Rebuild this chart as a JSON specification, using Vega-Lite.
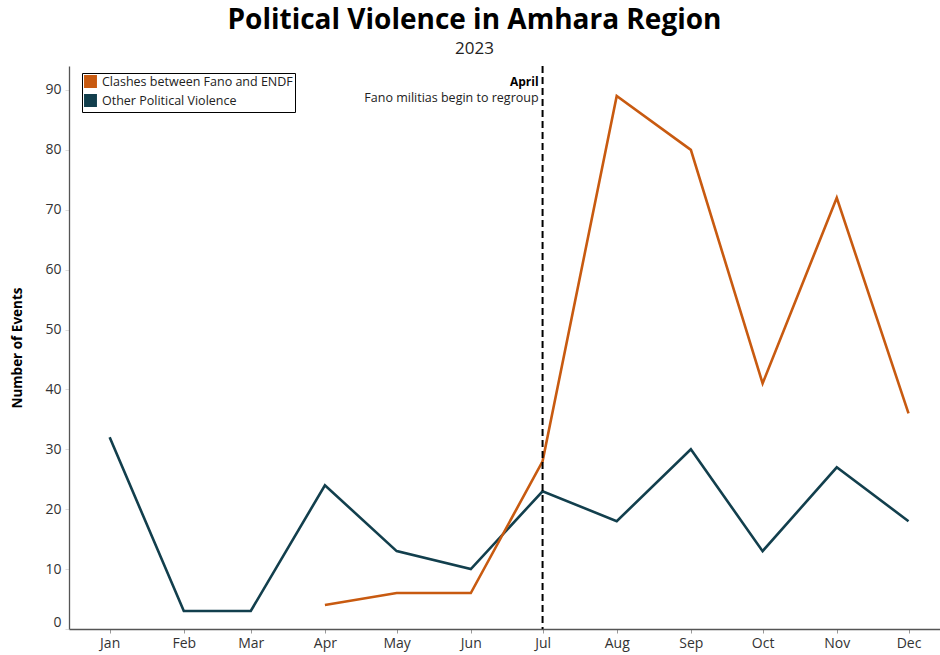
{
  "$schema": "https://vega.github.io/schema/vega-lite/v6.json",
  "width": 873,
  "height": 563,
  "padding": {"left": 10, "top": 7, "right": 0, "bottom": 5},
  "background": "white",
  "title": {
    "text": "Political Violence in Amhara Region",
    "subtitle": "2023",
    "font": "Open Sans",
    "fontSize": 28,
    "fontWeight": "bold",
    "color": "#000000",
    "subtitleFont": "Open Sans",
    "subtitleFontSize": 17,
    "subtitleColor": "#222222",
    "subtitlePadding": 6,
    "anchor": "middle",
    "frame": "bounds",
    "dx": -2,
    "offset": 8
  },
  "config": {
    "view": {"stroke": null},
    "font": "Open Sans",
    "axis": {"labelFont": "Open Sans", "titleFont": "Open Sans", "grid": false}
  },
  "datasets": {
    "series": [
      {"date": "2023-01-01", "series": "Other Political Violence", "events": 32},
      {"date": "2023-02-01", "series": "Other Political Violence", "events": 3},
      {"date": "2023-03-01", "series": "Other Political Violence", "events": 3},
      {"date": "2023-04-01", "series": "Other Political Violence", "events": 24},
      {"date": "2023-05-01", "series": "Other Political Violence", "events": 13},
      {"date": "2023-06-01", "series": "Other Political Violence", "events": 10},
      {"date": "2023-07-01", "series": "Other Political Violence", "events": 23},
      {"date": "2023-08-01", "series": "Other Political Violence", "events": 18},
      {"date": "2023-09-01", "series": "Other Political Violence", "events": 30},
      {"date": "2023-10-01", "series": "Other Political Violence", "events": 13},
      {"date": "2023-11-01", "series": "Other Political Violence", "events": 27},
      {"date": "2023-12-01", "series": "Other Political Violence", "events": 18},
      {"date": "2023-04-01", "series": "Clashes between Fano and ENDF", "events": 4},
      {"date": "2023-05-01", "series": "Clashes between Fano and ENDF", "events": 6},
      {"date": "2023-06-01", "series": "Clashes between Fano and ENDF", "events": 6},
      {"date": "2023-07-01", "series": "Clashes between Fano and ENDF", "events": 28},
      {"date": "2023-08-01", "series": "Clashes between Fano and ENDF", "events": 89},
      {"date": "2023-09-01", "series": "Clashes between Fano and ENDF", "events": 80},
      {"date": "2023-10-01", "series": "Clashes between Fano and ENDF", "events": 41},
      {"date": "2023-11-01", "series": "Clashes between Fano and ENDF", "events": 72},
      {"date": "2023-12-01", "series": "Clashes between Fano and ENDF", "events": 36}
    ],
    "marker": [{"date": "2023-07-01"}],
    "noteHead": [{"date": "2023-07-01", "events": 91.4, "label": "April"}],
    "noteBody": [{"date": "2023-07-01", "events": 88.7, "label": "Fano militias begin to regroup"}]
  },
  "layer": [
    {
      "data": {"name": "series"},
      "mark": {"type": "line", "strokeWidth": 2.6, "strokeJoin": "miter"},
      "encoding": {
        "x": {
          "field": "date",
          "type": "temporal",
          "scale": {
            "type": "utc",
            "domain": [
              {"year": 2022, "month": 12, "date": 15, "utc": true},
              {"year": 2023, "month": 12, "date": 15, "utc": true}
            ],
            "nice": false
          },
          "axis": {
            "title": null,
            "format": "%b",
            "tickCount": {"interval": "month", "step": 1},
            "labelAngle": 0,
            "labelFontSize": 14,
            "labelColor": "#333333",
            "labelPadding": 3,
            "labelFlush": false,
            "labelOverlap": false,
            "domainColor": "#555555",
            "domainWidth": 1.3,
            "tickColor": "#999999",
            "tickSize": 4
          }
        },
        "y": {
          "field": "events",
          "type": "quantitative",
          "scale": {"domain": [0, 94], "nice": false},
          "axis": {
            "title": "Number of Events",
            "titleFontSize": 13.5,
            "titleFontWeight": "bold",
            "titleColor": "#000000",
            "titlePadding": 20,
            "values": [0,10,20,30,40,50,60,70,80,90],
            "labelFontSize": 14,
            "labelColor": "#333333",
            "labelFlush": true,
            "labelPadding": 4,
            "domainColor": "#555555",
            "domainWidth": 1.3,
            "tickColor": "#dddddd",
            "tickSize": 4
          }
        },
        "color": {
          "field": "series",
          "type": "nominal",
          "scale": {
            "domain": ["Clashes between Fano and ENDF", "Other Political Violence"],
            "range": ["#c85a10", "#123f4d"]
          },
          "legend": {
            "title": null,
            "orient": "none",
            "legendX": 13,
            "legendY": 7,
            "symbolType": "square",
            "symbolSize": 130,
            "labelFont": "Open Sans",
            "labelFontSize": 12.5,
            "labelColor": "#222222",
            "labelLimit": 0,
            "strokeColor": "#000000",
            "fillColor": "white",
            "padding": 2,
            "rowPadding": 0,
            "labelOffset": 5,
            "encode": {
              "symbols": {
                "update": {
                  "fill": {"scale": "color", "field": "value"},
                  "stroke": {"value": "transparent"},
                  "opacity": {"value": 1}
                }
              }
            }
          }
        }
      }
    },
    {
      "data": {"name": "marker"},
      "mark": {"type": "rule", "strokeDash": [7, 4], "strokeWidth": 2, "color": "#000000"},
      "encoding": {
        "x": {"field": "date", "type": "temporal"}
      }
    },
    {
      "data": {"name": "noteHead"},
      "mark": {"type": "text", "align": "right", "dx": -4, "fontSize": 12, "fontWeight": "bold", "font": "Open Sans", "color": "#000000"},
      "encoding": {
        "x": {"field": "date", "type": "temporal"},
        "y": {"field": "events", "type": "quantitative"},
        "text": {"field": "label"}
      }
    },
    {
      "data": {"name": "noteBody"},
      "mark": {"type": "text", "align": "right", "dx": -4, "fontSize": 12.5, "font": "Open Sans", "color": "#222222"},
      "encoding": {
        "x": {"field": "date", "type": "temporal"},
        "y": {"field": "events", "type": "quantitative"},
        "text": {"field": "label"}
      }
    }
  ]
}
